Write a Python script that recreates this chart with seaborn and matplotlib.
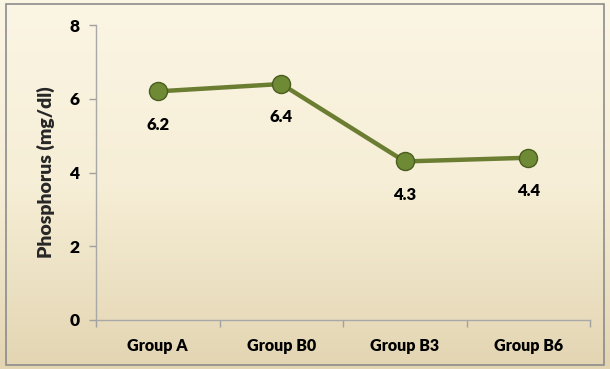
import numpy as np
import pandas as pd
import matplotlib
matplotlib.use("Agg")
import matplotlib.pyplot as plt
import seaborn as sns
from matplotlib.patches import Rectangle
from matplotlib.colors import LinearSegmentedColormap

groups = ["Group A", "Group B0", "Group B3", "Group B6"]
phosphorus = [6.2, 6.4, 4.3, 4.4]
y_ticks = [0, 2, 4, 6, 8]

sns.set_theme(style="white")
plt.rcParams['font.family'] = ['Lato', 'DejaVu Sans']

df = pd.DataFrame({"group": groups, "value": phosphorus})

fig = plt.figure(figsize=(6.1, 3.69), dpi=100)
# background gradient
bg = fig.add_axes([0, 0, 1, 1], zorder=-10)
grad = np.linspace(0, 1, 256).reshape(-1, 1)
cmap = LinearSegmentedColormap.from_list("bg", ["#fbf5e4", "#f6eed6", "#e3d5b2"])
bg.imshow(grad, aspect="auto", cmap=cmap, extent=[0, 1, 0, 1], origin="upper")
bg.set_axis_off()
fig.patches.append(Rectangle((6/610, 4/369), 598/610, 361/369, transform=fig.transFigure,
                             fill=False, edgecolor="#8c8c8c", linewidth=1.2, zorder=5))

ax = fig.add_axes([96/610, 1 - 320/369, 494/610, 295/369])
ax.patch.set_alpha(0)
sns.lineplot(data=df, x="group", y="value", ax=ax, color="#6a7d31", linewidth=3.2,
             marker="o", markersize=13, markerfacecolor="#6f8a35",
             markeredgecolor="#4a5c1f", markeredgewidth=1)

for i, v in enumerate(phosphorus):
    ax.annotate(f"{v}", (i, v), xytext=(0, -24), textcoords="offset points",
                ha="center", va="center", fontsize=12, fontweight="heavy", color="black")

ax.set_xlim(-0.5, 3.5)
ax.set_ylim(0, 8)
ax.set_yticks(y_ticks)
ax.set_yticklabels([str(t) for t in y_ticks], fontsize=12.5, fontweight="heavy")
ax.set_xticks(range(len(groups)))
ax.set_xticklabels(groups, fontsize=11.5, fontweight="heavy")
ax.set_xticks(np.arange(-0.5, 4, 1), minor=True)
ax.tick_params(axis="x", which="major", bottom=False, length=0, pad=13)
ax.tick_params(axis="x", which="minor", bottom=True, length=5, color="#a0a0a0", width=1, direction="out")
ax.tick_params(axis="y", which="major", left=True, length=5, color="#a0a0a0", width=1, direction="out", pad=7)
ax.tick_params(axis="both", labelcolor="black")
for s in ["top", "right"]:
    ax.spines[s].set_visible(False)
for s in ["left", "bottom"]:
    ax.spines[s].set_color("#a8a8a8")
    ax.spines[s].set_linewidth(1)
ax.set_xlabel("")
ax.set_ylabel("Phosphorus (mg/dl)", fontsize=14, fontweight="heavy", labelpad=10)
ax.grid(False)

fig.savefig("out.png", dpi=100)
